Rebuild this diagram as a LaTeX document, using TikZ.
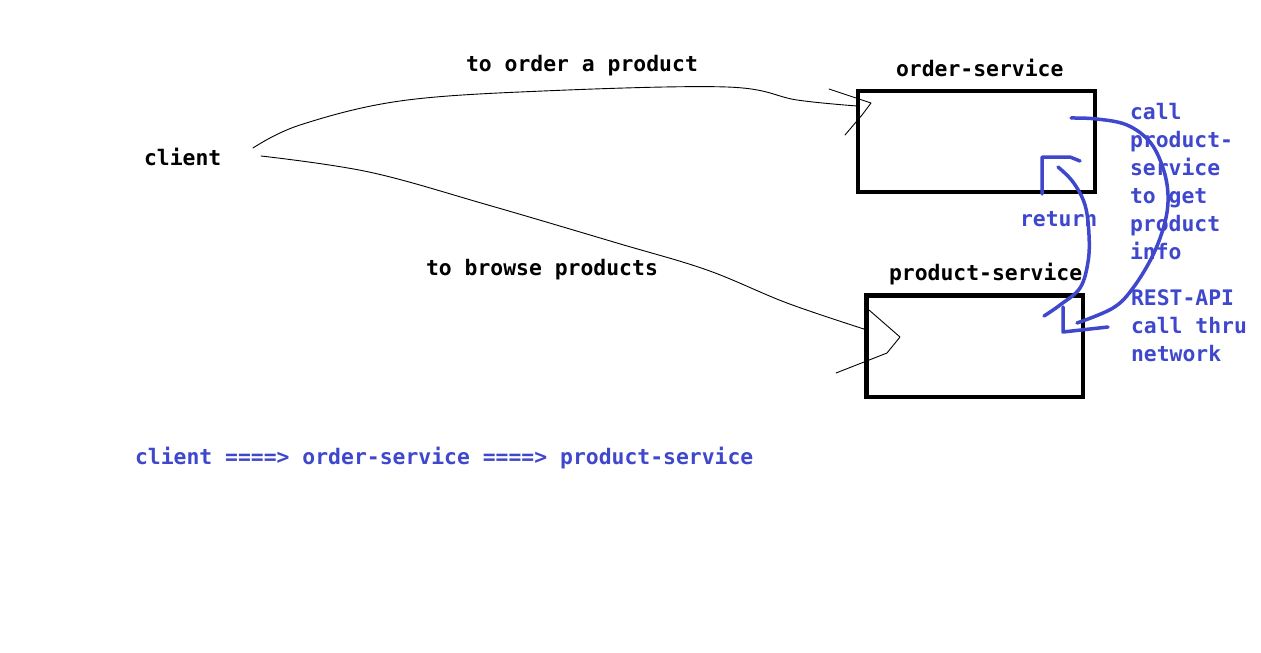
\documentclass[tikz,border=0pt]{standalone}
\usepackage{fontspec}
\setmonofont{DejaVu Sans Mono}
\definecolor{pblue}{RGB}{63,72,204}
\begin{document}
\begin{tikzpicture}[x=1pt,y=-1pt,
  txt/.style={font=\ttfamily\bfseries\fontsize{21.4}{28}\selectfont, inner sep=0pt, outer sep=0pt},
  btxt/.style={txt, text=pblue},
  box/.style={draw=black, line width=4.2pt, inner sep=0pt, outer sep=0pt},
  thin/.style={draw=black, line width=0.9pt, line join=round, line cap=round},
  bline/.style={draw=pblue, line width=3.5pt, line join=round, line cap=round}]
\useasboundingbox[fill=white] (0,0) rectangle (1261,653);

% boxes
\node[box, minimum width=237pt, minimum height=101pt] (order) at (976.5,141.5) {};
\node[box, minimum width=216.5pt, minimum height=101.5pt] (product) at (974.75,346.25) {};

% black labels
\node[txt, anchor=base west] (client) at (144,165) {client};
\node[txt, anchor=base west] (lorder) at (466,71) {to order a product};
\node[txt, anchor=base west] (lbrowse) at (426,275) {to browse products};
\node[txt, anchor=base west] (torder) at (896,76) {order-service};
\node[txt, anchor=base west] (tproduct) at (889,280) {product-service};

% blue labels
\node[btxt, anchor=base west] (lreturn) at (1020,226) {return};
\node[btxt, anchor=north west, align=left] (lcall) at (1130,103) {call\\product-\\service\\to get\\product\\info};
\node[btxt, anchor=north west, align=left] (lrest) at (1131,290) {REST-API\\call thru\\network};
\node[btxt, anchor=base west] (summary) at (135,464) {client ====> order-service ====> product-service};

% client -> order-service
\coordinate (c1) at (253,148);
\coordinate (o1) at (857,106);
\draw[thin] plot[smooth, tension=0.6] coordinates {(c1) (300,125) (400,101) (543,91) (727,87) (797,100) (o1)};
\draw[thin] (829,89) -- (871,103) -- (862,115) -- (845,135);

% client -> product-service
\coordinate (c2) at (261,156);
\coordinate (p1) at (867,330);
\draw[thin] plot[smooth, tension=0.6] coordinates {(c2) (369,172) (488,205) (617,243) (707,270) (787,303) (p1)};
\draw[thin] (869,310) -- (900,337) -- (887,353) -- (836,373);

% order -> product call
\coordinate (b1) at (1071,118);
\coordinate (b2) at (1077,323);
\draw[bline] plot[smooth, tension=0.6] coordinates {(b1) (1097,119) (1127,125) (1150,142) (1163,168) (1168,195) (1165,222) (1153,255) (1133,288) (1113,308) (b2)};
\draw[bline] (1063,307) -- (1063,332) -- (1108,327);

% product -> order return
\coordinate (r1) at (1044,316);
\coordinate (r2) at (1058,167);
\draw[bline] plot[smooth, tension=0.6] coordinates {(r1) (1060,305) (1080,288) (1088,262) (1089,235) (1085,205) (1073,182) (r2)};
\draw[bline] (1042,194) -- (1042,157) -- (1070,157) -- (1080,161);
\end{tikzpicture}
\end{document}
